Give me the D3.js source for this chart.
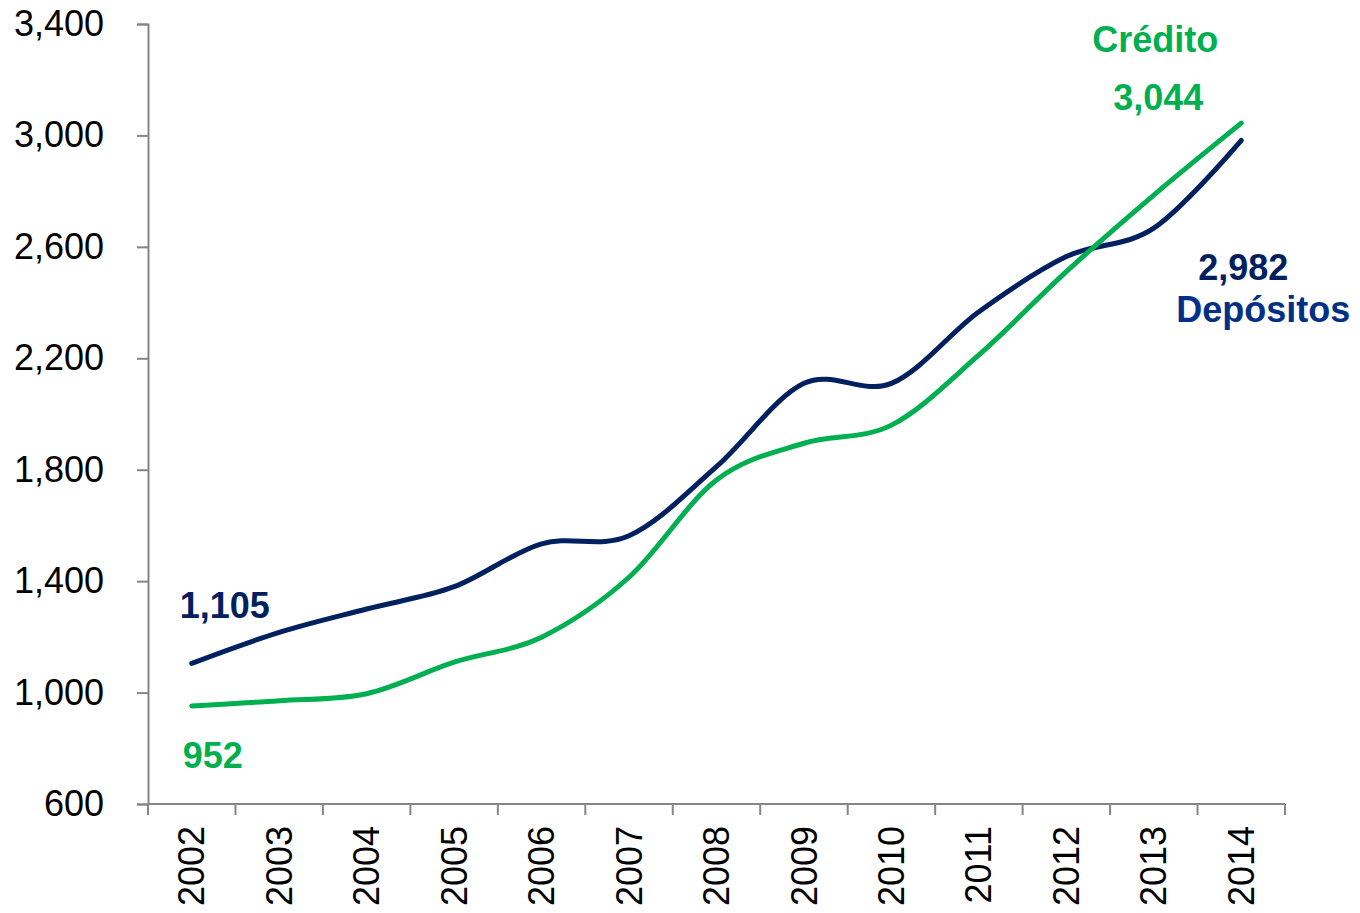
<!DOCTYPE html>
<html>
<head>
<meta charset="utf-8">
<script src="https://cdn.jsdelivr.net/npm/d3@7"></script>
<style>
  body { margin: 0; background: #fff; }
  svg { display: block; font-family: Arial, "Liberation Sans", sans-serif; }
</style>
</head>
<body>
<script>
"use strict";
const years = ["2002", "2003", "2004", "2005", "2006", "2007", "2008",
               "2009", "2010", "2011", "2012", "2013", "2014"];
const depositos = [1105, 1216, 1300, 1380, 1534, 1563, 1811, 2110, 2110, 2367, 2565, 2667, 2982];
const credito = [952, 971, 996, 1109, 1199, 1414, 1763, 1895, 1960, 2212, 2511, 2786, 3044];
const yTicks = [600, 1000, 1400, 1800, 2200, 2600, 3000, 3400];

(function(){
    let svgContainer = "";

    const measurements = {
        width: 1360,
        height: 913,
        left: 148,
        right: 1285,
        top: 24,
        bottom: 804
    }

    const colors = {
        green: "#00B050",
        navy: "#002060",
        navyText: "#003087",
        axis: "#868686"
    }

    window.onload = function() {
        svgContainer = d3.select('body').append("svg")
            .attr('width', measurements.width)
            .attr('height', measurements.height);
        makeLineChart();
    }

    function makeLineChart() {
        let scaleX = d3.scaleBand()
            .domain(years)
            .range([measurements.left, measurements.right])
            .padding(0);

        let scaleY = d3.scaleLinear()
            .domain([600, 3400])
            .range([measurements.bottom, measurements.top]);

        drawAxes(scaleX, scaleY);
        plotLine(scaleX, scaleY, depositos, colors.navy);
        plotLine(scaleX, scaleY, credito, colors.green);
        makeLabels(scaleX, scaleY);
    }

    function drawAxes(scaleX, scaleY) {
        let yAxis = d3.axisLeft()
            .scale(scaleY)
            .tickValues(yTicks)
            .tickSize(11)
            .tickPadding(33)
            .tickFormat(d3.format(","));

        let gy = svgContainer.append('g')
            .attr('transform', 'translate(' + measurements.left + ',0)')
            .call(yAxis);
        gy.select('.domain').attr('stroke', colors.axis).attr('stroke-width', 2);
        gy.selectAll('.tick line').attr('stroke', colors.axis).attr('stroke-width', 2);
        gy.selectAll('.tick text')
            .attr('fill', '#000')
            .style('font-size', '36px')
            .style('font-family', 'Arial, "Liberation Sans", sans-serif');

        // x axis: labels at band centres, tick marks at band edges
        let xAxis = d3.axisBottom()
            .scale(scaleX)
            .tickSize(0)
            .tickPadding(0);

        let gx = svgContainer.append('g')
            .attr('transform', 'translate(0,' + measurements.bottom + ')')
            .call(xAxis);
        gx.select('.domain').remove();
        gx.selectAll('.tick text')
            .attr('fill', '#000')
            .attr('transform', 'rotate(-90)')
            .attr('x', -22)
            .attr('y', 0)
            .attr('dy', '0.35em')
            .style('text-anchor', 'end')
            .style('font-size', '36px')
            .style('font-family', 'Arial, "Liberation Sans", sans-serif');

        svgContainer.append('line')
            .attr('x1', measurements.left)
            .attr('x2', measurements.right)
            .attr('y1', measurements.bottom)
            .attr('y2', measurements.bottom)
            .attr('stroke', colors.axis)
            .attr('stroke-width', 2);

        let edges = years.map((d) => scaleX(d)).concat([scaleX(years[years.length - 1]) + scaleX.bandwidth()]);
        svgContainer.selectAll('.xedge')
            .data(edges)
            .enter()
            .append('line')
                .attr('class', 'xedge')
                .attr('x1', (d) => d)
                .attr('x2', (d) => d)
                .attr('y1', measurements.bottom)
                .attr('y2', measurements.bottom + 11)
                .attr('stroke', colors.axis)
                .attr('stroke-width', 2);
    }

    function plotLine(scaleX, scaleY, values, color) {
        const line = d3.line()
            .x((d, i) => scaleX(years[i]) + scaleX.bandwidth() / 2)
            .y((d) => scaleY(d))
            .curve(d3.curveCardinal.tension(0));

        svgContainer.append('path')
            .datum(values)
            .attr('d', line)
            .attr('fill', 'none')
            .attr('stroke', color)
            .attr('stroke-width', 5)
            .attr('stroke-linecap', 'round');
    }

    function makeLabels(scaleX, scaleY) {
        const cx = (i) => scaleX(years[i]) + scaleX.bandwidth() / 2;
        const last = years.length - 1;

        const labels = [
            { text: "Crédito", x: cx(last) - 86, y: scaleY(credito[last]) - 71, color: colors.green },
            { text: d3.format(",")(credito[last]), x: cx(last) - 83, y: scaleY(credito[last]) - 13, color: colors.green },
            { text: d3.format(",")(depositos[last]), x: cx(last) + 2, y: scaleY(depositos[last]) + 140, color: colors.navy },
            { text: "Depósitos", x: cx(last) + 22, y: scaleY(depositos[last]) + 182, color: colors.navyText },
            { text: d3.format(",")(depositos[0]), x: cx(0) + 33, y: scaleY(depositos[0]) - 45, color: colors.navy },
            { text: d3.format(",")(credito[0]), x: cx(0) + 21, y: scaleY(credito[0]) + 62, color: colors.green }
        ];

        svgContainer.selectAll('text.label')
            .data(labels)
            .enter()
            .append('text')
                .attr('class', 'label')
                .attr('x', (d) => d.x)
                .attr('y', (d) => d.y)
                .attr('text-anchor', 'middle')
                .attr('fill', (d) => d.color)
                .style('font-size', '36px')
                .style('font-weight', 'bold')
                .text((d) => d.text);
    }
})()
</script>
</body>
</html>
